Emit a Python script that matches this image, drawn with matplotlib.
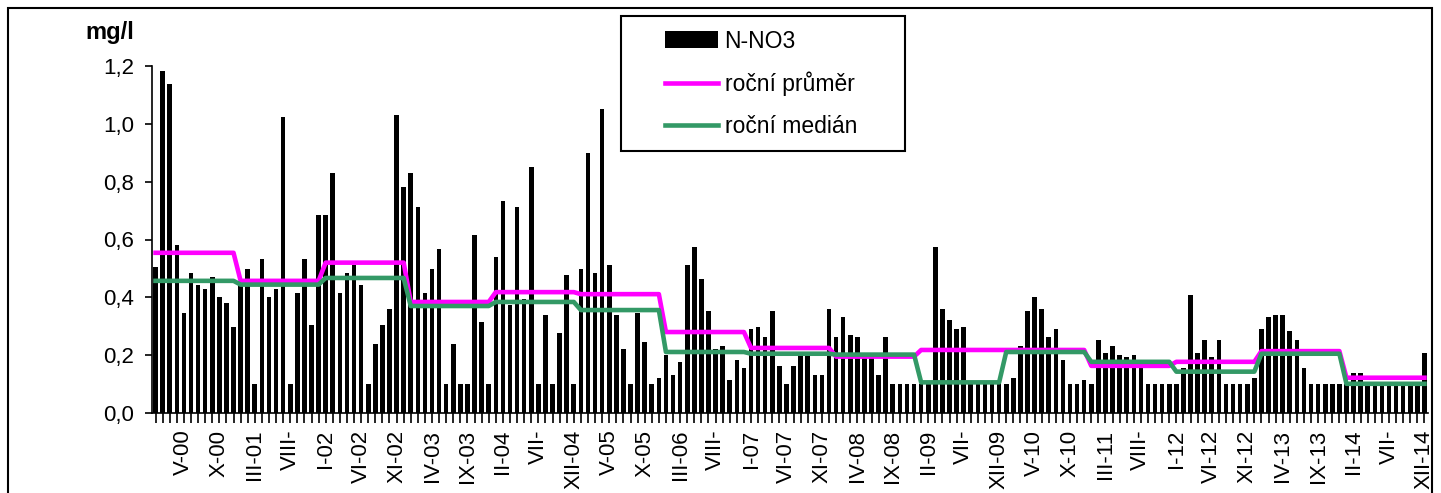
import numpy as np
import matplotlib.pyplot as plt
from matplotlib.patches import Rectangle

plt.rcParams['font.family'] = ['Liberation Sans', 'DejaVu Sans']

# monthly N-NO3 values (mg/l), one list per year, I..XII
n_no3_2000 = [0.506, 1.182, 1.139, 0.582, 0.347, 0.485, 0.444, 0.430, 0.471, 0.402, 0.382, 0.299]
n_no3_2001 = [0.450, 0.499, 0.100, 0.533, 0.402, 0.430, 1.023, 0.100, 0.416, 0.533, 0.306, 0.685]
n_no3_2002 = [0.685, 0.830, 0.416, 0.485, 0.513, 0.444, 0.100, 0.237, 0.306, 0.361, 1.030, 0.782]
n_no3_2003 = [0.830, 0.713, 0.416, 0.499, 0.568, 0.100, 0.237, 0.100, 0.100, 0.616, 0.313, 0.100]
n_no3_2004 = [0.540, 0.733, 0.375, 0.713, 0.395, 0.851, 0.100, 0.340, 0.100, 0.278, 0.478, 0.100]
n_no3_2005 = [0.499, 0.899, 0.485, 1.051, 0.513, 0.340, 0.223, 0.100, 0.347, 0.244, 0.100, 0.120]
n_no3_2006 = [0.202, 0.133, 0.175, 0.513, 0.575, 0.464, 0.354, 0.223, 0.230, 0.113, 0.182, 0.154]
n_no3_2007 = [0.292, 0.299, 0.264, 0.354, 0.161, 0.100, 0.161, 0.200, 0.200, 0.133, 0.133, 0.361]
n_no3_2008 = [0.264, 0.333, 0.271, 0.264, 0.200, 0.200, 0.133, 0.264, 0.100, 0.100, 0.100, 0.100]
n_no3_2009 = [0.100, 0.100, 0.575, 0.361, 0.320, 0.292, 0.299, 0.100, 0.100, 0.100, 0.100, 0.110]
n_no3_2010 = [0.100, 0.120, 0.230, 0.354, 0.402, 0.361, 0.264, 0.292, 0.182, 0.100, 0.100, 0.113]
n_no3_2011 = [0.100, 0.251, 0.209, 0.230, 0.202, 0.195, 0.202, 0.160, 0.100, 0.100, 0.100, 0.100]
n_no3_2012 = [0.100, 0.154, 0.409, 0.209, 0.251, 0.195, 0.251, 0.100, 0.100, 0.100, 0.100, 0.120]
n_no3_2013 = [0.292, 0.333, 0.340, 0.340, 0.285, 0.251, 0.154, 0.100, 0.100, 0.100, 0.100, 0.100]
n_no3_2014 = [0.100, 0.140, 0.140, 0.100, 0.100, 0.100, 0.100, 0.100, 0.100, 0.100, 0.100, 0.209]

# yearly mean and median, 2000..2014
rocni_prumer = [0.554, 0.457, 0.520, 0.384, 0.418, 0.411, 0.280, 0.225,
                0.195, 0.218, 0.218, 0.163, 0.177, 0.214, 0.122]
rocni_median = [0.457, 0.444, 0.467, 0.370, 0.384, 0.356, 0.211, 0.205,
                0.202, 0.106, 0.211, 0.177, 0.143, 0.205, 0.101]

# every 5th month is labelled, starting with V-00 (as shown, some cut off)
tick_labels = ["V-00", "X-00", "III-01", "VIII-", "I-02", "VI-02", "XI-02", "IV-03",
               "IX-03", "II-04", "VII-", "XII-04", "V-05", "X-05", "III-06", "VIII-",
               "I-07", "VI-07", "XI-07", "IV-08", "IX-08", "II-09", "VII-", "XII-09",
               "V-10", "X-10", "III-11", "VIII-", "I-12", "VI-12", "XI-12", "IV-13",
               "IX-13", "II-14", "VII-", "XII-14"]

n_no3 = np.concatenate([n_no3_2000, n_no3_2001, n_no3_2002, n_no3_2003, n_no3_2004,
                        n_no3_2005, n_no3_2006, n_no3_2007, n_no3_2008, n_no3_2009,
                        n_no3_2010, n_no3_2011, n_no3_2012, n_no3_2013, n_no3_2014])
x = np.arange(len(n_no3))

W, H = 1441, 493
fig = plt.figure(figsize=(W / 100, H / 100), dpi=100)
ax = fig.add_axes([152 / W, 1 - 413 / H, (1428 - 152) / W, (413 - 66) / H])

bars = ax.bar(x, n_no3, width=0.65, color="black", label="N-NO3")
l_mean, = ax.plot(x, np.repeat(rocni_prumer, 12), color="#FF00FF", lw=3.3,
                  label="roční průměr")
l_med, = ax.plot(x, np.repeat(rocni_median, 12), color="#339966", lw=3.3,
                 label="roční medián")

ax.set_xlim(-0.5, len(x) - 0.5)
ax.set_ylim(0, 1.2)
yt = np.arange(0, 1.21, 0.2)
ax.set_yticks(yt)
ax.set_yticklabels([f"{v:.1f}".replace(".", ",") for v in yt])

labels = [""] * len(x)
for i, lab in zip(range(4, len(x), 5), tick_labels):
    labels[i] = lab
ax.set_xticks(x)
ax.set_xticklabels(labels, rotation=90)

for s in ("top", "right"):
    ax.spines[s].set_visible(False)
for s in ("left", "bottom"):
    ax.spines[s].set_linewidth(1.2)
ax.tick_params(axis="x", length=7, width=1.2, pad=5, labelsize=16)
ax.tick_params(axis="y", length=5, width=1.2, pad=8, labelsize=16)

fig.text(110 / W, 1 - 33 / H, "mg/l", fontweight="bold", fontsize=17,
         ha="center", va="center")

# outer frame and legend frame
fig.add_artist(Rectangle((8 / W, -0.05), (1432 - 8) / W, 1.05 - 8 / H,
                         transform=fig.transFigure, fill=False, lw=1.5, ec="black"))
fig.add_artist(Rectangle((621 / W, 1 - 151 / H), 284 / W, 135 / H,
                         transform=fig.transFigure, fill=False, lw=1.5, ec="black"))
fig.legend(handles=[bars, l_mean, l_med], loc="upper left",
           bbox_to_anchor=(665 / W, 1 - 29.5 / H), frameon=False,
           fontsize=16.5, borderpad=0, borderaxespad=0, labelspacing=0.82,
           handlelength=2.3, handletextpad=0.3)

fig.savefig("out.png", dpi=100)
